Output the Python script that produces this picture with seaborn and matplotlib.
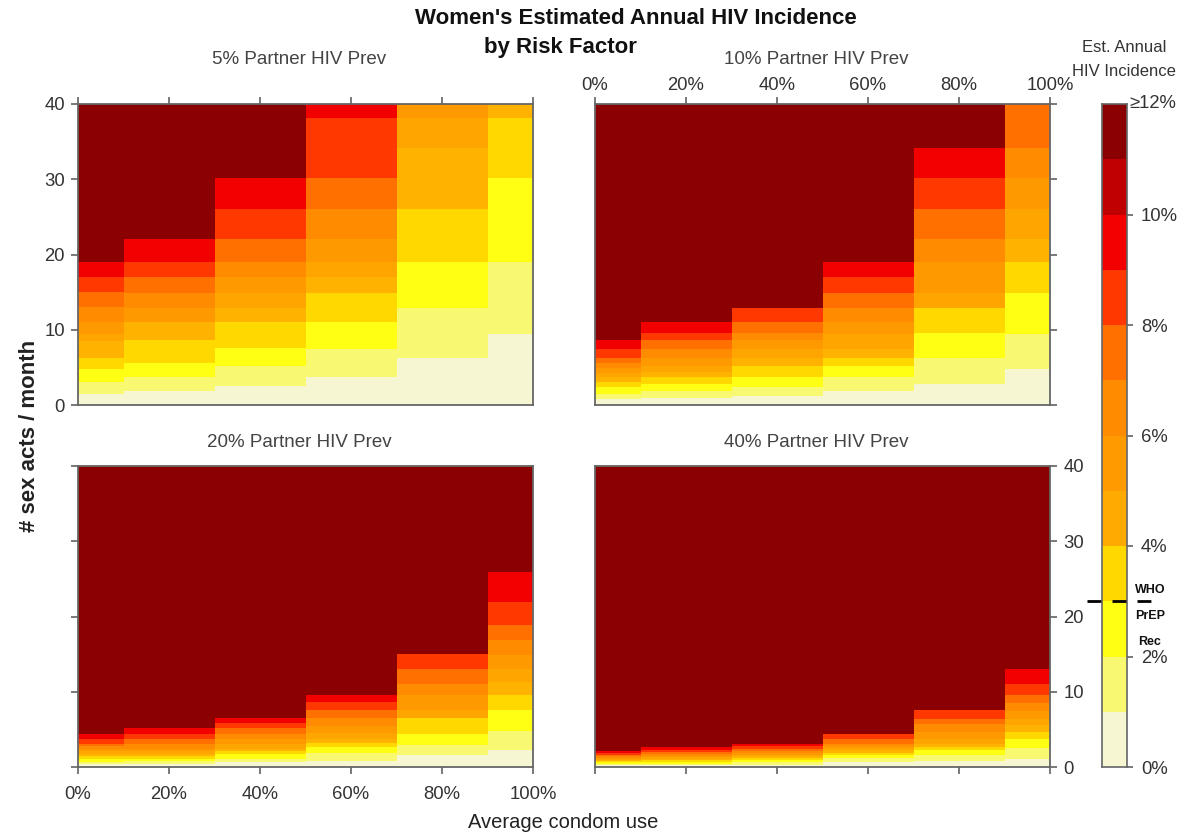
import numpy as np
import matplotlib
matplotlib.use("Agg")
import matplotlib.pyplot as plt
from matplotlib.colors import ListedColormap
from matplotlib.lines import Line2D
import seaborn as sns

# ---------------- data ----------------
condom_edges = [0, 10, 30, 50, 70, 90, 100]          # % condom use, column edges
x_tick_vals = [0, 20, 40, 60, 80, 100]
x_tick_labels = ["0%", "20%", "40%", "60%", "80%", "100%"]
y_tick_vals = [0, 10, 20, 30, 40]
panel_titles = ["5% Partner HIV Prev", "10% Partner HIV Prev",
                "20% Partner HIV Prev", "40% Partner HIV Prev"]

# For every condom-use column: sex acts / month at which the estimated annual
# incidence reaches level 1, 2, ... 11 (1% steps; level 11 = top colour).
thr_prev05 = [
    [1.5, 3.1, 4.8, 6.3, 8.5, 9.4, 11.0, 13.0, 15.0, 17.0, 19.0],
    [1.8, 3.7, 5.6, 8.6, 11.0, 11.0, 12.9, 14.9, 17.0, 19.0, 22.0],
    [2.5, 5.2, 7.6, 11.0, 12.9, 14.9, 17.0, 19.0, 22.1, 26.1, 30.1],
    [3.7, 7.5, 11.0, 14.9, 17.0, 19.0, 22.1, 26.1, 30.1, 38.1],
    [6.3, 12.9, 19.0, 26.1, 34.1, 38.1],
    [9.5, 19.0, 30.1, 38.1],
]
thr_prev10 = [
    [0.76, 1.47, 2.44, 3.1, 3.69, 4.31, 4.89, 5.56, 6.31, 7.47, 8.58],
    [0.89, 1.78, 2.76, 3.69, 4.44, 5.2, 6.31, 7.47, 8.58, 9.56, 10.98],
    [1.2, 2.44, 3.69, 5.2, 6.31, 7.47, 8.58, 9.56, 11.0, 12.9, 12.9],
    [1.8, 3.7, 5.2, 6.3, 7.5, 9.4, 11.0, 12.9, 14.9, 17.0, 19.0],
    [2.8, 6.3, 9.6, 12.9, 12.9, 14.9, 19.0, 22.1, 26.1, 30.1, 34.1],
    [4.75, 9.5, 14.9, 19.0, 22.1, 26.1, 30.1, 34.1],
]
thr_prev20 = [
    [0.35, 0.7, 1.0, 1.4, 1.75, 2.1, 2.45, 2.8, 3.1, 3.72, 4.47],
    [0.4, 0.75, 1.1, 1.45, 1.75, 2.1, 2.45, 3.1, 3.72, 4.47, 5.13],
    [0.62, 1.1, 1.73, 2.1, 2.43, 3.1, 3.72, 4.47, 5.18, 5.84, 6.46],
    [0.84, 1.86, 2.65, 3.2, 3.7, 4.5, 5.5, 6.5, 7.6, 8.58, 9.6],
    [1.6, 2.9, 4.45, 6.5, 6.5, 7.6, 9.6, 11.0, 13.0, 15.0, 15.0],
    [2.2, 4.8, 7.6, 9.6, 11.3, 13.0, 14.9, 16.9, 18.9, 21.9, 25.9],
]
thr_prev40 = [
    [0.2, 0.4, 0.6, 0.75, 0.9, 1.05, 1.2, 1.4, 1.6, 1.85, 2.13],
    [0.25, 0.45, 0.7, 0.9, 1.1, 1.3, 1.5, 1.7, 1.95, 2.25, 2.58],
    [0.3, 0.6, 0.9, 1.15, 1.4, 1.6, 1.85, 2.15, 2.45, 2.8, 3.1],
    [0.58, 1.15, 1.6, 1.9, 2.2, 2.5, 2.8, 3.07, 3.73, 4.36, 4.36],
    [0.84, 1.6, 2.27, 2.7, 3.07, 3.7, 4.7, 5.7, 6.4, 7.6, 7.6],
    [1.1, 2.5, 3.7, 4.7, 5.6, 6.4, 7.5, 8.5, 9.6, 11.0, 13.0],
]
panel_thresholds = [thr_prev05, thr_prev10, thr_prev20, thr_prev40]

map_colors = ["#F7F6D2", "#F9F871", "#FFFF14", "#FFD800", "#FFB300", "#FFA500",
              "#FF9900", "#FF8C00", "#FF7000", "#FF3800", "#F20000", "#8B0000"]
cbar_colors = ["#F7F6D2", "#F9F871", "#FFFF14", "#FFD800", "#FFAA00", "#FF9A00",
               "#FF8C00", "#FF7000", "#FF3800", "#F20000", "#C00000", "#8B0000"]
cbar_tick_vals = [0, 2, 4, 6, 8, 10]
cbar_tick_labels = ["0%", "2%", "4%", "6%", "8%", "10%"]
cbar_top_label = "\u226512%"
who_prep_rec = 3  # % annual incidence

# ---------------- styling ----------------
sns.set_theme(style="white")
plt.rcParams["font.family"] = ["Liberation Sans", "DejaVu Sans"]

W, H = 1186, 836
fig = plt.figure(figsize=(W / 100, H / 100), dpi=100)


def rect(x0, y0, x1, y1):
    return [x0 / W, 1 - y1 / H, (x1 - x0) / W, (y1 - y0) / H]


dy = 0.05
y_centers = np.arange(0, 40, dy) + dy / 2
x_centers = np.arange(0, 100, 10) + 5


def level_grid(thr):
    grid = np.zeros((len(y_centers), len(x_centers)))
    for j, xc in enumerate(x_centers):
        col = np.searchsorted(condom_edges, xc) - 1
        t = np.array(thr[col])
        grid[:, j] = (y_centers[:, None] >= t[None, :]).sum(axis=1)
    return grid


map_cmap = ListedColormap(map_colors)
boxes = [(78, 104, 533, 405), (595, 104, 1050, 405),
         (78, 466, 533, 767), (595, 466, 1050, 767)]
title_y = [60, 60, 443, 443]
tick_color = "#555555"
label_color = "#333333"
fs_tick = 13.3

for k, (box, thr) in enumerate(zip(boxes, panel_thresholds)):
    ax = fig.add_axes(rect(*box))
    grid = level_grid(thr)
    sns.heatmap(grid, ax=ax, cmap=map_cmap, vmin=-0.5, vmax=11.5, cbar=False,
                xticklabels=False, yticklabels=False, rasterized=True)
    ax.set_ylim(0, grid.shape[0])
    ax.set_xlim(0, len(x_centers))
    for s in ax.spines.values():
        s.set_visible(True)
        s.set_color("#666666")
        s.set_linewidth(1.3)
    ax.set_xticks(np.array(x_tick_vals) / 10)
    ax.set_xticklabels(x_tick_labels)
    ax.set_yticks(np.array(y_tick_vals) / dy)
    ax.set_yticklabels([str(v) for v in y_tick_vals])
    ax.tick_params(length=5, width=1.1, color=tick_color, labelcolor=label_color,
                   labelsize=fs_tick, pad=4.5)
    top = k < 2
    left = k % 2 == 0
    ax.tick_params(axis="x", top=top, bottom=not top,
                   labeltop=(k == 1), labelbottom=(k == 2), labelrotation=0,
                   pad=(2.5 if top else 8.5))
    ax.tick_params(axis="y", left=left, right=not left,
                   labelleft=(k == 0), labelright=(k == 3), labelrotation=0)
    cx = (box[0] + box[2]) / 2 - 6
    fig.text(cx / W, 1 - title_y[k] / H, panel_titles[k], ha="center", va="center",
             fontsize=13.5, color="#444444")

# colour key
cax = fig.add_axes(rect(1102, 104, 1127, 767))
sns.heatmap(np.arange(len(cbar_colors)).reshape(-1, 1), ax=cax,
            cmap=ListedColormap(cbar_colors), vmin=-0.5, vmax=len(cbar_colors) - 0.5,
            cbar=False, xticklabels=False, yticklabels=False)
cax.set_ylim(0, len(cbar_colors))
for s in cax.spines.values():
    s.set_visible(True)
    s.set_color("#666666")
    s.set_linewidth(1.2)
cax.set_yticks(cbar_tick_vals)
cax.set_yticklabels(cbar_tick_labels)
cax.tick_params(axis="y", left=False, right=True, labelleft=False, labelright=True,
                length=4, width=1.1, color=tick_color, labelcolor=label_color,
                labelsize=fs_tick, pad=6, labelrotation=0)
cax.tick_params(axis="x", bottom=False, top=False)
cax.text(1.08, len(cbar_colors), cbar_top_label, transform=cax.get_yaxis_transform(),
         ha="left", va="center", fontsize=fs_tick, color=label_color, clip_on=False)

y_who = 767 - who_prep_rec / 12 * (767 - 104)
fig.add_artist(Line2D([1087 / W, 1152 / W], [1 - y_who / H] * 2,
                      transform=fig.transFigure, color="black", lw=2, dashes=(5, 4)))
for txt, yy in zip(["WHO", "PrEP", "Rec"], [590, 616, 642]):
    fig.text(1150 / W, 1 - yy / H, txt, ha="center", va="center",
             fontsize=9, fontweight="bold", color="#111111")

fig.text(1124 / W, 1 - 47 / H, "Est. Annual", ha="center", va="center",
         fontsize=12, color="#333333")
fig.text(1124 / W, 1 - 72 / H, "HIV Incidence", ha="center", va="center",
         fontsize=12, color="#333333")

# titles and axis labels
fig.text(636 / W, 1 - 18 / H, "Women's Estimated Annual HIV Incidence", ha="center",
         va="center", fontsize=16, fontweight="bold", color="#111111")
fig.text(560 / W, 1 - 48 / H, "by Risk Factor", ha="center", va="center",
         fontsize=16, fontweight="bold", color="#111111")
fig.text(563 / W, 1 - 822 / H, "Average condom use", ha="center", va="center",
         fontsize=14.5, color="#222222")
fig.text(30 / W, 1 - 436 / H, "# sex acts / month", ha="center", va="center",
         rotation=90, fontsize=16, fontweight="bold", color="#222222")

fig.savefig("out.png", dpi=100)
